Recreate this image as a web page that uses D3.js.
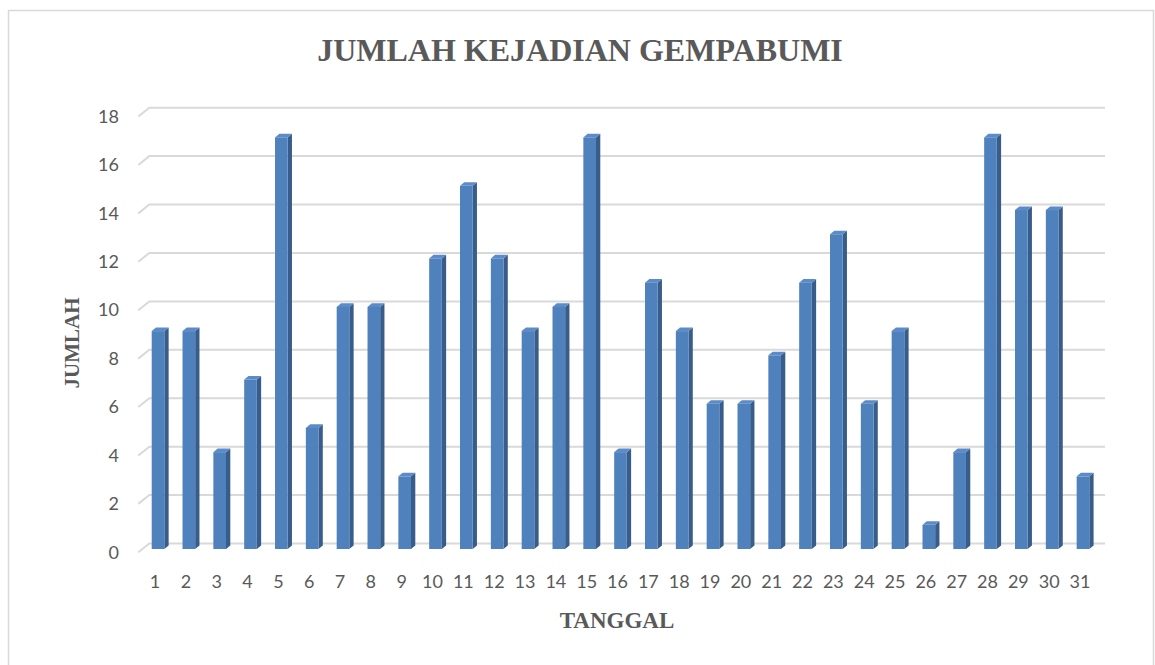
<!DOCTYPE html>
<html lang="id">
<head>
  <meta charset="UTF-8" />
  <title>Jumlah Kejadian Gempabumi</title>
  <script src="https://d3js.org/d3.v7.min.js"></script>
  <style>
    body { margin: 0; background: #fff; }
  </style>
</head>
<body>
  <svg id="chart" width="1155" height="665"></svg>

  <script>
    const days = d3.range(1, 32).map(String);
    const counts = [9, 9, 4, 7, 17, 5, 10, 10, 3, 12, 15, 12, 9, 10, 17, 4, 11, 9, 6, 6, 8, 11, 13, 6, 9, 1, 4, 17, 14, 14, 3];
    const yTicks = [0, 2, 4, 6, 8, 10, 12, 14, 16, 18];

    const svg = d3.select("#chart");
    const dx = 4.3, dy = 3.6;      // depth of the 3d bars
    const wallDx = 11, wallDy = 8.8; // depth of the floor / wall

    // outer border
    svg.append("rect")
      .attr("x", 8.5).attr("y", 10.5)
      .attr("width", 1145).attr("height", 660)
      .attr("fill", "none")
      .attr("stroke", "#d9d9d9")
      .attr("stroke-width", 1.5);

    const x = d3.scaleBand()
      .domain(days)
      .range([142.6, 1098.4])
      .paddingInner(0.59)
      .paddingOuter(0.295);

    const y = d3.scaleLinear()
      .domain([0, 18])
      .range([549, 113.2]);

    // gridlines on the back wall + slanted part on the side wall
    const grid = svg.append("g");
    yTicks.forEach(v => {
      const yb = y(v) - 5.5;
      grid.append("path")
        .attr("d", `M138.3,${yb + wallDy}L${138.3 + wallDx},${yb}H1105`)
        .attr("fill", "none")
        .attr("stroke", "#d9d9d9")
        .attr("stroke-width", 2);
    });

    // y axis labels
    const yAxis = svg.append("g")
      .attr("transform", "translate(119,3.3)")
      .call(d3.axisLeft(y).tickValues(yTicks).tickSize(0).tickPadding(0));
    yAxis.select(".domain").remove();
    yAxis.selectAll("text")
      .attr("fill", "#595959")
      .style("font-family", "Lato, 'Open Sans', sans-serif")
      .style("font-size", "18px");

    // bars
    const bars = svg.append("g").selectAll("g")
      .data(days)
      .join("g");

    bars.append("path")   // side face
      .attr("d", (d, i) => {
        const x1 = x(d) + x.bandwidth(), y0 = y(0), y1 = y(counts[i]);
        return `M${x1},${y0}L${x1 + dx},${y0 - dy}L${x1 + dx},${y1 - dy}L${x1},${y1}Z`;
      })
      .attr("fill", "#385d8a");

    bars.append("path")   // top face
      .attr("d", (d, i) => {
        const x0 = x(d), x1 = x0 + x.bandwidth(), y1 = y(counts[i]);
        return `M${x0},${y1}L${x0 + dx},${y1 - dy}L${x1 + dx},${y1 - dy}L${x1},${y1}Z`;
      })
      .attr("fill", "#5b8bc8");

    bars.append("rect")   // front face
      .attr("x", d => x(d))
      .attr("y", (d, i) => y(counts[i]))
      .attr("width", x.bandwidth())
      .attr("height", (d, i) => y(0) - y(counts[i]))
      .attr("fill", "#4f81bd");

    // x axis labels
    const xAxis = svg.append("g")
      .attr("transform", "translate(-3,575)")
      .call(d3.axisBottom(x).tickSize(0).tickPadding(0));
    xAxis.select(".domain").remove();
    xAxis.selectAll("text")
      .attr("fill", "#595959")
      .attr("dy", "0.71em")
      .style("font-family", "Lato, 'Open Sans', sans-serif")
      .style("font-size", "18px");

    // titles
    svg.append("text")
      .attr("x", 580).attr("y", 61)
      .attr("text-anchor", "middle")
      .attr("fill", "#595959")
      .style("font-family", "'Liberation Serif', 'Times New Roman', serif")
      .style("font-weight", "bold")
      .style("font-size", "32px")
      .text("JUMLAH KEJADIAN GEMPABUMI");

    svg.append("text")
      .attr("x", 617).attr("y", 628)
      .attr("text-anchor", "middle")
      .attr("fill", "#595959")
      .style("font-family", "'Liberation Serif', 'Times New Roman', serif")
      .style("font-weight", "bold")
      .style("font-size", "23px")
      .text("TANGGAL");

    svg.append("text")
      .attr("transform", "translate(79,343) rotate(-90)")
      .attr("text-anchor", "middle")
      .attr("fill", "#595959")
      .style("font-family", "'Liberation Serif', 'Times New Roman', serif")
      .style("font-weight", "bold")
      .style("font-size", "21px")
      .text("JUMLAH");
  </script>
</body>
</html>
